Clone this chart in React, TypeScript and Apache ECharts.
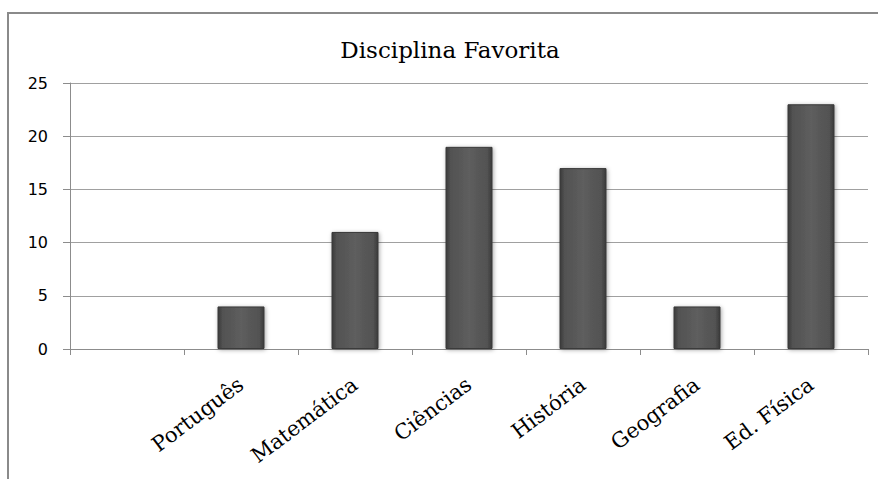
import React, { useEffect, useRef } from "react";
import * as echarts from "echarts";

const categories = ["", "Português", "Matemática", "Ciências", "História", "Geografia", "Ed. Física"];
const values: (number | null)[] = [null, 4, 11, 19, 17, 4, 23];
const yTicks = { min: 0, max: 25, interval: 5 };
const titleText = "Disciplina Favorita";

export default function App() {
  const ref = useRef<HTMLDivElement>(null);
  useEffect(() => {
    if (!ref.current) return;
    const chart = echarts.init(ref.current, null, { renderer: "svg" });
    const barColor = new echarts.graphic.LinearGradient(0, 0, 1, 0, [
      { offset: 0, color: "#3a3a3a" },
      { offset: 0.1, color: "#525252" },
      { offset: 0.5, color: "#5e5e5e" },
      { offset: 0.9, color: "#525252" },
      { offset: 1, color: "#3a3a3a" },
    ]);
    chart.setOption({
      animation: false,
      backgroundColor: "#ffffff",
      graphic: [
        {
          type: "rect",
          shape: { x: 8, y: 13, width: 1000, height: 1000 },
          style: { fill: "none", stroke: "#8a8a8a", lineWidth: 2 },
          silent: true,
        },
        {
          type: "text",
          x: 450,
          y: 50,
          style: {
            text: titleText,
            fontFamily: "DejaVu Serif",
            fontSize: 23,
            fill: "#000",
            textAlign: "center",
            textVerticalAlign: "middle",
          },
          silent: true,
        },
      ],
      grid: { left: 70, right: 10, top: 83, bottom: 130, containLabel: false },
      xAxis: {
        type: "category",
        data: categories,
        axisLine: { lineStyle: { color: "#8c8c8c", width: 1 } },
        axisTick: { show: true, length: 6, lineStyle: { color: "#8c8c8c" } },
        axisLabel: {
          rotate: 37,
          margin: 33,
          interval: 0,
          fontFamily: "DejaVu Serif",
          fontSize: 21,
          color: "#000",
        },
      },
      yAxis: {
        type: "value",
        min: yTicks.min,
        max: yTicks.max,
        interval: yTicks.interval,
        axisLine: { show: true, lineStyle: { color: "#8c8c8c", width: 1 } },
        axisTick: { show: true, length: 7, lineStyle: { color: "#8c8c8c" } },
        axisLabel: { margin: 22, fontFamily: "DejaVu Sans", fontSize: 16, color: "#000" },
        splitLine: { lineStyle: { color: "#a0a0a0", width: 1 } },
      },
      series: [
        {
          type: "bar",
          data: values,
          barWidth: 47,
          itemStyle: {
            color: barColor,
            borderColor: "#3a3a3a",
            borderWidth: 1,
            shadowColor: "rgba(0,0,0,0.35)",
            shadowBlur: 4,
            shadowOffsetX: 1,
            shadowOffsetY: 1,
          },
        },
      ],
    });
    return () => chart.dispose();
  }, []);
  return (
    <div
      ref={ref}
      style={{ position: "fixed", left: 0, top: 0, width: 878, height: 479, background: "#fff" }}
    />
  );
}
